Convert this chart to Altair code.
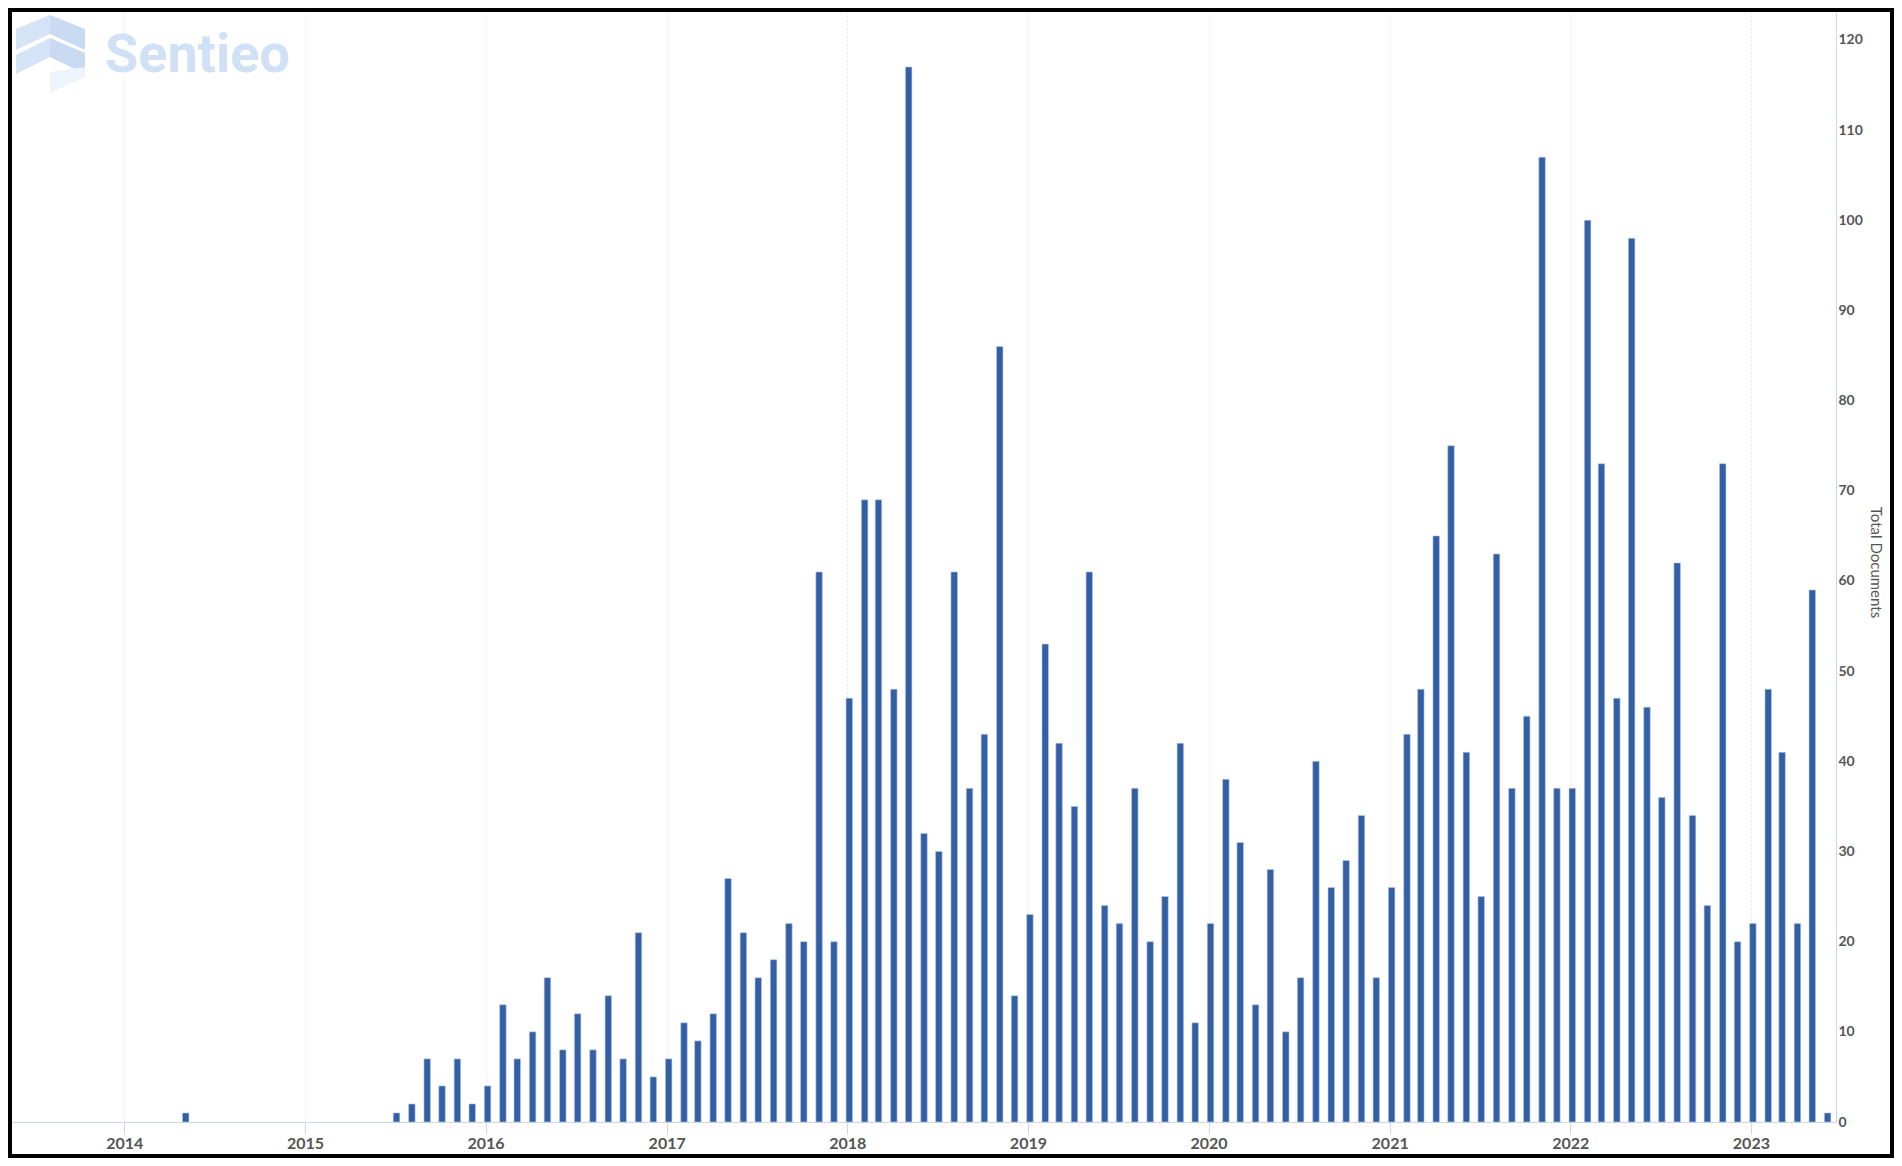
import altair as alt
import pandas as pd

# ---------------- data ----------------
early_months = ["2014-05"]
early_counts = [1]

first_regular_month = "2015-07"
counts_2015 = [1, 2, 7, 4, 7, 2]                                  # Jul-Dec
counts_2016 = [4, 13, 7, 10, 16, 8, 12, 8, 14, 7, 21, 5]
counts_2017 = [7, 11, 9, 12, 27, 21, 16, 18, 22, 20, 61, 20]
counts_2018 = [47, 69, 69, 48, 117, 32, 30, 61, 37, 43, 86, 14]
counts_2019 = [23, 53, 42, 35, 61, 24, 22, 37, 20, 25, 42, 11]
counts_2020 = [22, 38, 31, 13, 28, 10, 16, 40, 26, 29, 34, 16]
counts_2021 = [26, 43, 48, 65, 75, 41, 25, 63, 37, 45, 107, 37]
counts_2022 = [37, 100, 73, 47, 98, 46, 36, 62, 34, 24, 73, 20]
counts_2023 = [22, 48, 41, 22, 59, 1]                             # Jan-Jun

year_ticks = [2014, 2015, 2016, 2017, 2018, 2019, 2020, 2021, 2022, 2023]
y_ticks = [0, 10, 20, 30, 40, 50, 60, 70, 80, 90, 100, 110, 120]
y_title = "Total Documents"
watermark_text = "Sentieo"

regular_counts = (counts_2015 + counts_2016 + counts_2017 + counts_2018 +
                  counts_2019 + counts_2020 + counts_2021 + counts_2022 + counts_2023)
regular_months = [d.strftime("%Y-%m") for d in
                  pd.date_range(first_regular_month + "-01", periods=len(regular_counts), freq="MS")]

months = early_months + regular_months
counts = early_counts + regular_counts
df = pd.DataFrame({"date": [m + "-01" for m in months], "count": counts})

# ---------------- layout ----------------
W, H = 1824, 1110
PAD = {"left": 4, "top": 4, "right": 58, "bottom": 36}   # whole svg: 1886 x 1150
SVG_W = PAD["left"] + W + PAD["right"]
SVG_H = PAD["top"] + H + PAD["bottom"]
LABEL_COLOR = "#555555"
AXIS_COLOR = "#ccd6eb"

x_enc = alt.X(
    "date:T",
    scale=alt.Scale(
        type="utc",
        domain=[alt.DateTime(year=2013, month=5, date=19, utc=True),
                alt.DateTime(year=2023, month=6, date=22, utc=True)],
        nice=False,
        padding=0,
    ),
    axis=alt.Axis(
        values=[alt.DateTime(year=y, month=1, date=1, utc=True) for y in year_ticks],
        format="%Y",
        formatType="utc",
        title=None,
        grid=True,
        gridDash=[1, 3],
        gridColor="#d9d9d9",
        gridWidth=1,
        domainColor=AXIS_COLOR,
        domainWidth=1,
        tickColor=AXIS_COLOR,
        tickSize=12,
        labelPadding=1,
        labelFont="Lato",
        labelFontSize=16,
        labelFontWeight="bold",
        labelColor=LABEL_COLOR,
        labelFlush=False,
        labelOverlap=False,
    ),
)

y_enc = alt.Y(
    "count:Q",
    scale=alt.Scale(domain=[0, 123.1], nice=False, padding=0),
    axis=alt.Axis(
        orient="right",
        values=y_ticks,
        grid=False,
        ticks=False,
        domainColor=AXIS_COLOR,
        domainWidth=1,
        labelPadding=2,
        labelFont="Lato",
        labelFontSize=14,
        labelFontWeight="bold",
        labelColor=LABEL_COLOR,
        labelBaseline="middle",
        title=y_title,
        titleFont="Lato",
        titleFontSize=15,
        titleFontWeight="normal",
        titleColor=LABEL_COLOR,
        titleAngle=90,
        titleAlign="center",
        titleBaseline="middle",
        titleX=39,
        titleY=550,
    ),
)

bars = alt.Chart(df).mark_bar(
    width=6.5, color="#335fa5", stroke="#b9c8e6", strokeWidth=0.6, xOffset=2
).encode(x=x_enc, y=y_enc)

one_row = alt.Data(values=[{"k": 1}])

# watermark logo (decorative)
logo_parts = [
    ("M-0.854,-0.61 L-0.024,-0.951 L-0.024,-0.488 L-0.854,-0.098 Z", "#d5e3f7"),
    ("M-0.024,-0.951 L0.829,-0.61 L0.829,-0.098 L-0.024,-0.488 Z", "#c9dbf3"),
    ("M-0.854,0.024 L-0.024,-0.39 L-0.024,0.073 L-0.854,0.488 Z", "#d5e3f7"),
    ("M-0.024,-0.39 L0.829,-0.024 L0.829,0.488 L-0.024,0.073 Z", "#c7daf2"),
    ("M-0.024,0.439 L0.829,0.317 L0.829,0.561 L-0.024,0.951 Z", "#eef4fc"),
]
logo_layers = [
    alt.Chart(one_row).mark_point(shape=p, filled=True, color=c, opacity=1, strokeWidth=0, size=6724)
    .encode(x=alt.value(39), y=alt.value(42))
    for p, c in logo_parts
]

wm_text = alt.Chart(one_row).mark_text(
    align="left", baseline="alphabetic", font="Roboto", fontWeight="bold",
    fontSize=54, color="#d0e0f5"
).encode(x=alt.value(93), y=alt.value(60), text=alt.value(watermark_text))

# black frame around the whole picture (along the svg edges)
FRAME_W = 4
frame = alt.Chart(one_row).mark_rect(
    fillOpacity=0, stroke="black", strokeWidth=FRAME_W
).encode(
    x=alt.value(-PAD["left"] + FRAME_W / 2),
    x2=alt.value(SVG_W - PAD["left"] - FRAME_W / 2),
    y=alt.value(-PAD["top"] + FRAME_W / 2),
    y2=alt.value(SVG_H - PAD["top"] - FRAME_W / 2),
)

chart = alt.layer(*logo_layers, wm_text, bars, frame).properties(
    width=W,
    height=H,
    autosize=alt.AutoSizeParams(type="none"),
    padding=PAD,
    background="white",
).configure_view(strokeWidth=0)

chart.save("out.html", embed_options={"renderer": "svg", "actions": False})
